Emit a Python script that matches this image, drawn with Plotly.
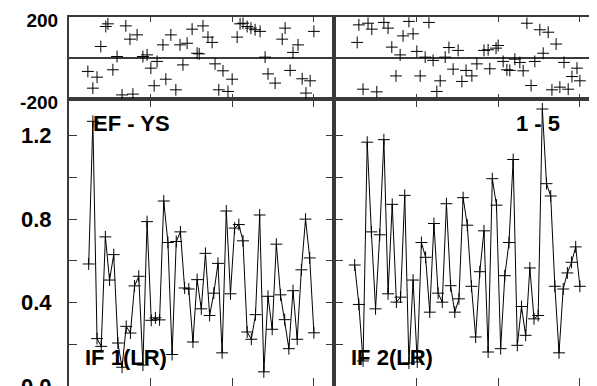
import plotly.graph_objects as go

# ---------------- data ----------------
# amplitude, left panel (EF - YS / IF 1(LR))
amp_left = [0.585, 1.269, 0.227, 0.19, 0.715, 0.508, 0.63, 0.206, 0.09, 0.286,
            0.254, 0.48, 0.526, 0.10, 0.788, 0.315, 0.327, 0.317, 0.887, 0.688,
            0.151, 0.693, 0.739, 0.47, 0.465, 0.211, 0.51, 0.37, 0.636, 0.338,
            0.445, 0.588, 0.159, 0.839, 0.442, 0.757, 0.774, 0.696, 0.259, 0.224,
            0.342, 0.82, 0.068, 0.43, 0.272, 0.68, 0.437, 0.318, 0.179, 0.457,
            0.224, 0.557, 0.80, 0.614, 0.255]
# amplitude, right panel (1 - 5 / IF 2(LR))
amp_right = [0.58, 0.391, 0.12, 1.169, 0.739, 0.37, 0.725, 1.181, 0.442, 0.871,
             0.402, 0.426, 0.914, 0.11, 0.508, 0.115, 0.688, 0.617, 0.354, 0.779,
             0.445, 0.402, 0.874, 0.481, 0.354, 0.418, 0.903, 0.771, 0.478, 0.235,
             0.548, 0.744, 0.163, 0.994, 0.867, 0.179, 0.529, 0.688, 1.086, 0.195,
             0.381, 0.243, 0.566, 0.322, 0.338, 1.328, 0.970, 0.911, 0.478, 0.159,
             0.465, 0.542, 0.593, 0.667, 0.478]
amp_left_x = list(range(len(amp_left)))
amp_right_x = list(range(len(amp_right)))

# phase, left panel
phase_left_x = [-0.2, 1.0, 2.0, 2.9, 4.1, 4.6, 5.8, 6.8, 8.0, 8.9, 9.9, 10.6, 11.6,
                13.0, 14.0, 14.9, 15.7, 16.4, 17.8, 18.5, 19.7, 20.9, 21.9, 22.6,
                23.6, 24.8, 26.0, 26.5, 27.4, 28.6, 29.6, 30.3, 31.2, 32.2, 33.4,
                34.4, 35.6, 36.3, 37.0, 38.0, 38.9, 39.9, 41.1, 42.3, 43.0, 44.7,
                46.4, 47.1, 48.3, 49.0, 50.2, 51.2, 52.1, 53.1, 54.0]
phase_left = [-65, -147, -93, 57, 155, 168, -57, 8, -180, 158, 93, -176, 114, 8,
              16, -49, -135, -16, 65, -103, 114, -155, 65, -33, 73, 142, 24, 21,
              158, 103, 77, -28, -155, -62, -163, -103, 103, 168, 171, 155, 147,
              139, 131, 5, -77, -122, 93, 147, -60, 28, 65, -101, -171, -111, 131]
# phase, right panel
phase_right_x = [0.6, 1.0, 2.0, 3.2, 4.1, 5.3, 7.0, 8.0, 8.9, 9.9, 10.9, 11.6, 13.0,
                 14.0, 14.9, 15.7, 16.9, 17.8, 18.8, 19.7, 20.5, 21.7, 22.6, 23.6,
                 24.8, 25.7, 26.7, 28.1, 29.3, 31.0, 32.0, 32.4, 33.9, 34.4, 35.6,
                 36.5, 37.2, 38.4, 39.6, 40.4, 41.3, 42.3, 43.2, 44.4, 45.2, 46.4,
                 47.3, 48.3, 49.2, 50.2, 51.2, 52.1, 53.3, 54.0]
phase_right = [77, 163, -152, 171, 142, -165, 175, 147, 54, -87, 16, 109, 180, 119,
               33, -87, 5, 175, -11, -163, -111, 5, 52, -54, 38, -114, -60, -87,
               -28, 38, 41, -52, 49, 62, -16, -57, -60, -5, -21, -62, 171, -134,
               -16, 139, 24, 127, -155, 69, -142, -21, -152, -90, -49, -111]

amp_ticks = [0.0, 0.2, 0.4, 0.6, 0.8, 1.0, 1.2]
amp_ticktext = ["0.0", "", "0.4", "", "0.8", "", "1.2"]
phase_ticks = [-200, 0, 200]
phase_ticktext = ["-200", "", "200"]
x_ticks = [-4.7, 14.9, 34.4, 54.0]

label_tl = "EF - YS"
label_tr = "1 - 5"
label_bl = "IF 1(LR)"
label_br = "IF 2(LR)"

# ---------------- layout geometry ----------------
# the page body has an 8 px margin, so the figure sits at (8, 8) in the window
OFF = 8
W, H = 597 - OFF, 386 - OFF
def fx(p):
    return (p - OFF) / W
def fy(p):
    return 1 - (p - OFF) / H

LEFT, MID, RIGHT = 68.7, 334.3, 597.0
TOP, SPLIT, BOTTOM = 17.3, 99.0, 386.0
PXU = 4.17          # pixels per sample
FIRST_L, FIRST_R = 88.7, 354.7

xr_left = [-(FIRST_L - LEFT) / PXU, (MID - FIRST_L) / PXU]
xr_right = [-(FIRST_R - MID) / PXU, (RIGHT - FIRST_R) / PXU]

LC = "#3a3a3a"
FONT = "Liberation Sans"

fig = go.Figure()

mk = dict(symbol="cross-thin", size=8.5, color="black", line=dict(color="black", width=1))

fig.add_trace(go.Scatter(x=amp_left_x, y=amp_left, mode="lines+markers",
                         line=dict(color="black", width=1), marker=mk,
                         xaxis="x", yaxis="y", showlegend=False, hoverinfo="skip"))
fig.add_trace(go.Scatter(x=amp_right_x, y=amp_right, mode="lines+markers",
                         line=dict(color="black", width=1), marker=mk,
                         xaxis="x2", yaxis="y2", showlegend=False, hoverinfo="skip"))
fig.add_trace(go.Scatter(x=phase_left_x, y=phase_left, mode="markers", marker=mk,
                         xaxis="x3", yaxis="y3", showlegend=False, hoverinfo="skip"))
fig.add_trace(go.Scatter(x=phase_right_x, y=phase_right, mode="markers", marker=mk,
                         xaxis="x4", yaxis="y4", showlegend=False, hoverinfo="skip"))
# invisible trace so that the right-edge tick axis is drawn
fig.add_trace(go.Scatter(x=amp_right_x, y=amp_right, mode="lines", opacity=0,
                         line=dict(width=0), xaxis="x2", yaxis="y5",
                         showlegend=False, hoverinfo="skip"))

base = dict(showline=True, linecolor=LC, linewidth=1.5, showgrid=False,
            zeroline=False, ticks="inside", tickcolor=LC, tickwidth=1.2,
            fixedrange=True, automargin=False, ticklabeloverflow="allow")

tick_font_big = dict(family=FONT, size=22, color="black", weight="bold")
tick_font_small = dict(family=FONT, size=19, color="black", weight="bold")

fig.update_layout(
    width=W, height=H, autosize=False,
    margin=dict(l=0, r=0, t=0, b=0, pad=0, autoexpand=False),
    paper_bgcolor="white", plot_bgcolor="white",
    xaxis=dict(base, domain=[fx(LEFT), fx(MID)], range=xr_left, anchor="y",
               mirror="ticks", ticklen=8, tickvals=x_ticks, showticklabels=False),
    yaxis=dict(base, domain=[0, fy(SPLIT)], range=[0, 1.376], anchor="x",
               mirror="ticks", ticklen=9, tickvals=amp_ticks, ticktext=amp_ticktext,
               tickfont=tick_font_big, ticklabelstandoff=11),
    xaxis2=dict(base, domain=[fx(MID), 1.0], range=xr_right, anchor="y2",
                mirror="ticks", ticklen=8, tickvals=x_ticks, showticklabels=False),
    yaxis2=dict(base, domain=[0, fy(SPLIT)], range=[0, 1.376], anchor="x2",
                mirror=False, ticklen=9, tickvals=amp_ticks, showticklabels=False),
    yaxis5=dict(overlaying="y2", side="right", anchor="x2", range=[0, 1.376],
                showline=False, showgrid=False, zeroline=False, ticks="inside",
                ticklen=5, tickcolor=LC, tickwidth=1.2, tickvals=amp_ticks,
                showticklabels=False, fixedrange=True, automargin=False),
    xaxis3=dict(base, domain=[fx(LEFT), fx(MID)], range=xr_left, anchor="y3",
                mirror="ticks", ticklen=5, tickvals=x_ticks, showticklabels=False),
    yaxis3=dict(base, domain=[fy(SPLIT), fy(TOP)], range=[-200, 200], anchor="x3",
                mirror="ticks", ticklen=6, tickvals=phase_ticks, ticktext=phase_ticktext,
                tickfont=tick_font_small, ticklabelstandoff=5, ticklabelshift=3,
                zeroline=True, zerolinecolor=LC, zerolinewidth=1.5),
    xaxis4=dict(base, domain=[fx(MID), 1.0], range=xr_right, anchor="y4",
                mirror="ticks", ticklen=5, tickvals=x_ticks, showticklabels=False),
    yaxis4=dict(base, domain=[fy(SPLIT), fy(TOP)], range=[-200, 200], anchor="x4",
                mirror=False, ticklen=6, tickvals=phase_ticks, showticklabels=False,
                zeroline=True, zerolinecolor=LC, zerolinewidth=1.5),
)

ann_font = dict(family=FONT, size=22, color="black", weight="bold")
for txt, x, y, xa in [(label_tl, 91, 123.5, "left"), (label_tr, 562, 123.5, "right"),
                      (label_bl, 82.7, 357, "left"), (label_br, 348.7, 357, "left")]:
    fig.add_annotation(text=txt, x=fx(x), y=fy(y), xref="paper", yref="paper",
                       xanchor=xa, yanchor="middle", showarrow=False, font=ann_font)

fig.write_html("out.html", config={"displayModeBar": False})
